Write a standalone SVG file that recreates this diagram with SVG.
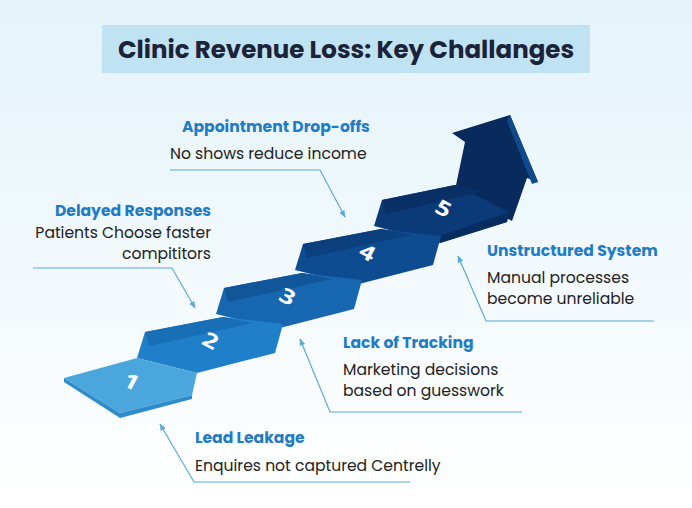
<svg xmlns="http://www.w3.org/2000/svg" width="692" height="508" viewBox="0 0 692 508">
<defs>
<linearGradient id="bg" x1="0" y1="0" x2="0" y2="1"><stop offset="0" stop-color="#e4f3fa"/><stop offset="1" stop-color="#ffffff"/></linearGradient>
<marker id="ah" viewBox="0 0 10 10" refX="9" refY="5" markerWidth="6" markerHeight="6" orient="auto-start-reverse"><path d="M0,1 L10,5 L0,9 Z" fill="#5aa9d6"/></marker>
<style>
.h{font-family:"Poppins","Noto Sans","Open Sans",sans-serif;font-weight:700;font-size:15.6px;fill:#1f7cc4}
.b{font-family:"Poppins","Noto Sans","Open Sans",sans-serif;font-size:15.6px;fill:#222}
.n{font-family:"Noto Sans",sans-serif;font-weight:700;font-size:26px;fill:#fff;text-anchor:middle}
.c{fill:none;stroke:#5aa9d6;stroke-width:1.2}
</style>
</defs>
<rect width="692" height="508" fill="url(#bg)"/>
<g id="title">
<rect x="102" y="25" width="488" height="48" fill="#bfe3f2"/>
<text x="346" y="58" text-anchor="middle" font-family="Poppins,'Noto Sans',sans-serif" font-weight="700" font-size="24.5" fill="#1c2238">Clinic Revenue Loss: Key Challanges</text>
</g>
<g id="staircase">
<polygon points="455,190 465,142 452,133 510,115 538,182 527,178 512,221" fill="#082a5c"/>
<polygon points="510,115 538,182 532,184 507,121" fill="#0f4a8c"/>
<g id="step5"><polygon points="374,226 382,200 455,185 509,212 507,222 440,243" fill="#0a3a78"/><polygon points="382,200 455,185 485,191 386,214" fill="#082f66"/><polygon points="440,243 507,222 509,212 440,236" fill="#072c60"/><text class="n" transform="translate(440,215) rotate(28) scale(1,0.8)">5</text></g>
<g id="step4"><polygon points="295,270 303,244 381,229 441,236 433,265 355,285" fill="#0e4c92"/><polygon points="303,244 381,229 411,235 307,258" fill="#0b3f7d"/><text class="n" transform="translate(364,259) rotate(28) scale(1,0.8)">4</text></g>
<g id="step3"><polygon points="216,314 224,288 302,273 362,280 354,309 276,329" fill="#1766b0"/><polygon points="224,288 302,273 332,279 228,302" fill="#12569a"/><text class="n" transform="translate(284,303) rotate(28) scale(1,0.8)">3</text></g>
<g id="step2"><polygon points="137,358 145,332 223,317 283,324 275,353 197,373" fill="#1f80c9"/><polygon points="145,332 223,317 253,323 149,346" fill="#196fb5"/><text class="n" transform="translate(207,347) rotate(28) scale(1,0.8)">2</text></g>
<g id="step1"><polygon points="64,378 137,358 197,373 192,395 120,413" fill="#4aa6dc"/><polygon points="64,378 120,413 192,395 192,399 120,418 64,382" fill="#2f8ccb"/><text class="n" transform="translate(128,388) rotate(28) scale(1,0.8)">1</text></g>
</g>
<g id="connectors">
<polyline class="c" points="410,482 194,482 160,424" marker-end="url(#ah)"/>
<polyline class="c" points="33,268 172,268 195,308" marker-end="url(#ah)"/>
<polyline class="c" points="170,170 320,170 345,217" marker-end="url(#ah)"/>
<polyline class="c" points="522,412 330,412 300,339" marker-end="url(#ah)"/>
<polyline class="c" points="654,321 486,321 458,256" marker-end="url(#ah)"/>
</g>
<g id="appointment"><text class="h" x="182" y="132">Appointment Drop-offs</text><text class="b" x="170" y="159">No shows reduce income</text></g>
<g id="delayed"><text class="h" x="211" y="216" text-anchor="end">Delayed Responses</text><text class="b" x="211" y="238" text-anchor="end">Patients Choose faster</text><text class="b" x="211" y="259" text-anchor="end">compititors</text></g>
<g id="unstructured"><text class="h" x="487" y="256">Unstructured System</text><text class="b" x="487" y="283">Manual processes</text><text class="b" x="487" y="304">become unreliable</text></g>
<g id="tracking"><text class="h" x="343" y="348">Lack of Tracking</text><text class="b" x="343" y="375">Marketing decisions</text><text class="b" x="343" y="396">based on guesswork</text></g>
<g id="lead"><text class="h" x="195" y="443">Lead Leakage</text><text class="b" x="195" y="471">Enquires not captured Centrelly</text></g>
</svg>
